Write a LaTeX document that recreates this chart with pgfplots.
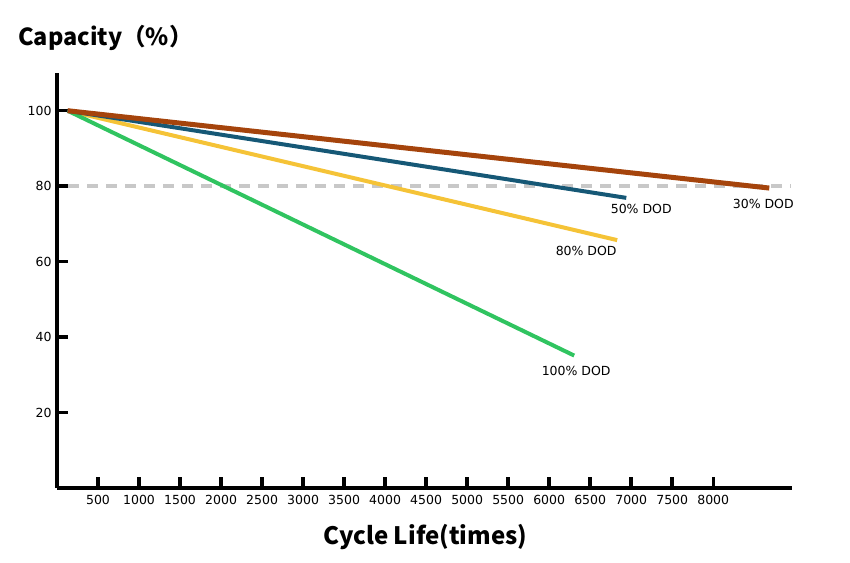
\documentclass[border=0pt]{standalone}
\usepackage{pgfplots}
\pgfplotsset{compat=1.18}
\usepackage{fontspec}
\setmainfont{DejaVu Sans}
\newfontfamily\cjk{Noto Sans CJK SC}
\definecolor{cbrown}{RGB}{165,68,12}
\definecolor{cblue}{RGB}{22,88,118}
\definecolor{cyellow}{RGB}{245,195,55}
\definecolor{cgreen}{RGB}{48,196,96}
\definecolor{cgray}{RGB}{200,200,200}
\begin{document}
\begin{tikzpicture}
\path[use as bounding box] (-57bp,-75bp) rectangle (793bp,488bp);
\begin{axis}[
  at={(0,0)}, anchor=south west,
  scale only axis, width=735bp, height=415bp,
  xmin=0, xmax=8960, ymin=0, ymax=110,
  axis x line*=bottom, axis y line*=left,
  axis line style={line width=4bp, black, -},
  xtick={500,1000,...,8000}, ytick={20,40,60,80,100},
  tick style={line width=3.5bp, black},
  major tick length=11bp,
  tick align=inside,
  xticklabel style={font=\fontsize{12.5bp}{14bp}\selectfont, yshift=-4bp},
  yticklabel style={font=\fontsize{12.5bp}{14bp}\selectfont, xshift=-2bp},
  /pgf/number format/assume math mode=true,
  /pgf/number format/1000 sep={},
  clip=false,
]
\addplot[cgray, line width=4bp, dash pattern=on 11bp off 8bp] coordinates {(140,80) (8950,80)};
\addplot[cyellow, line width=4bp] coordinates {(130,100) (6829,65.7)};
\addplot[cgreen, line width=4bp] coordinates {(130,100) (6305,35.1)};
\addplot[cblue, line width=4bp] coordinates {(130,100) (6940,76.9)};
\addplot[cbrown, line width=5bp] coordinates {(130,100) (8683,79.5)};
\node[font=\fontsize{12.5bp}{14bp}\selectfont] at (axis cs:7122,74.0) {50\% DOD};
\node[font=\fontsize{12.5bp}{14bp}\selectfont] at (axis cs:8610,75.2) {30\% DOD};
\node[font=\fontsize{12.5bp}{14bp}\selectfont] at (axis cs:6451,62.8) {80\% DOD};
\node[font=\fontsize{12.5bp}{14bp}\selectfont] at (axis cs:6329,30.9) {100\% DOD};
\end{axis}
\node[anchor=west, inner sep=0pt, font=\cjk\bfseries\fontsize{23.5bp}{27bp}\selectfont] at (-39bp,450bp) {Capacity（\%）};
\node[inner sep=0pt, font=\cjk\bfseries\fontsize{24bp}{28bp}\selectfont] at (368.5bp,-49bp) {Cycle Life(times)};
\end{tikzpicture}
\end{document}
